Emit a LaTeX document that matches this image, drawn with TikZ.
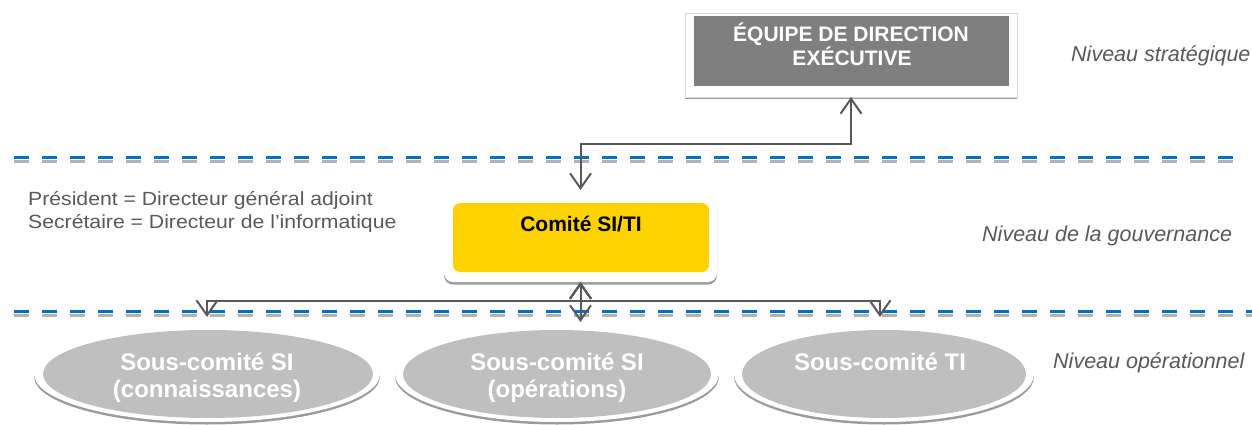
\documentclass[tikz,border=0pt]{standalone}
\usepackage{fontspec}
\setmainfont{Liberation Sans}
\usetikzlibrary{arrows.meta,shadows,shapes.geometric}

\definecolor{dirgray}{HTML}{7F7F7F}
\definecolor{comyellow}{HTML}{FFD200}
\definecolor{subgray}{HTML}{BFBFBF}
\definecolor{linkgray}{HTML}{595959}
\definecolor{txtgray}{HTML}{595959}
\definecolor{sepblue}{HTML}{0070C0}

\tikzset{
  frameshadow/.style={drop shadow={shadow xshift=0pt, shadow yshift=-2.5pt, fill=black!60, opacity=0.65}},
  whiteframe/.style={fill=white, inner sep=0pt, outer sep=0pt},
  dirbox/.style={rectangle, fill=dirgray, inner sep=0pt, outer sep=0pt, minimum width=315pt, minimum height=70pt},
  combox/.style={rectangle, rounded corners=7pt, fill=comyellow, inner sep=0pt, outer sep=0pt, minimum width=256pt, minimum height=69pt},
  subell/.style={ellipse, fill=subgray, inner sep=0pt, outer sep=0pt, minimum height=88pt},
  boxtext/.style={anchor=base, inner sep=0pt, font=\fontsize{21}{24}\selectfont\bfseries},
  subtext/.style={anchor=base, inner sep=0pt, text=white, font=\fontsize{24}{27}\selectfont\bfseries},
  leveltext/.style={anchor=base west, inner sep=0pt, text=txtgray, font=\fontsize{21.5}{24}\selectfont\itshape},
  roletext/.style={anchor=base west, inner sep=0pt, text=txtgray, font=\fontsize{21.2}{24}\selectfont},
  link/.style={draw=linkgray, line width=2pt,
    {Straight Barb[length=15pt,width=21pt]}-{Straight Barb[length=15pt,width=21pt]}},
  sepline/.style={draw=sepblue, line width=3.5pt, dash pattern=on 15pt off 13pt},
  sepshade/.style={draw=black!30, line width=3pt, dash pattern=on 15pt off 13pt},
}

\begin{document}
\begin{tikzpicture}[x=1pt,y=-1pt]
\useasboundingbox (0,0) rectangle (1252,425);

% level separators
\coordinate (s1a) at (14,157.5);
\coordinate (s1b) at (1233,157.5);
\coordinate (s2a) at (14,311.5);
\coordinate (s2b) at (1252,311.5);
\draw[sepshade] ([yshift=-4pt]s1a) -- ([yshift=-4pt]s1b);
\draw[sepline] (s1a) -- (s1b);
\draw[sepshade] ([yshift=-4pt]s2a) -- ([yshift=-4pt]s2b);
\draw[sepline] (s2a) -- (s2b);

% executive team
\node[whiteframe, frameshadow, draw=black!15, line width=0.6pt, minimum width=332pt, minimum height=84pt] (dir) at (851,55) {};
\node[dirbox] (dirin) at (851.5,51) {};
\node[boxtext, text=white] (dirt1) at (851,42) {ÉQUIPE DE DIRECTION};
\node[boxtext, text=white] (dirt2) at (852,66) {EXÉCUTIVE};

% IS/IT committee
\node[whiteframe, frameshadow, rounded corners=9pt, minimum width=273pt, minimum height=90pt] (com) at (580.5,237) {};
\node[combox] (comin) at (581,237.5) {};
\node[boxtext, text=black] (comt) at (581,231.5) {Comité SI/TI};

% sub-committees
\node[whiteframe, frameshadow, ellipse, minimum width=346pt, minimum height=96pt] (e1) at (207,374) {};
\node[subell, minimum width=330pt] (e1in) at (208,374) {};
\node[whiteframe, frameshadow, ellipse, minimum width=324pt, minimum height=96pt] (e2) at (557,374) {};
\node[subell, minimum width=308pt] (e2in) at (557,374) {};
\node[whiteframe, frameshadow, ellipse, minimum width=300pt, minimum height=96pt] (e3) at (884,374) {};
\node[subell, minimum width=284pt] (e3in) at (884,374) {};

\node[subtext] (e1t1) at (207,370) {Sous-comité SI};
\node[subtext] (e1t2) at (207,397) {(connaissances)};
\node[subtext] (e2t1) at (557,370) {Sous-comité SI};
\node[subtext] (e2t2) at (557,397) {(opérations)};
\node[subtext] (e3t1) at (880,370) {Sous-comité TI};

% connectors
\coordinate (j1) at (0,144);
\coordinate (j2) at (0,301);
\draw[link] (dir.south) -- (dir.south |- j1) -| ([yshift=2pt]com.north);
\draw[link] (com.south) -- (com.south |- j2) -| ([shift={(0,-9)}]e1.north);
\draw[link] (com.south) -- ([shift={(0,-4)}]com.south |- e2.north);
\draw[link] (com.south) -- (com.south |- j2) -| ([shift={(-4,-9)}]e3.north);

% chair and secretary
\node[roletext] (role1) at (28,205.7) {\scalebox{1}[0.9]{Président = Directeur général adjoint}};
\node[roletext] (role2) at (28,228.3) {\scalebox{1}[0.9]{Secrétaire = Directeur de l’informatique}};

% levels
\node[leveltext] (lv1) at (1071,61.5) {Niveau stratégique};
\node[leveltext] (lv2) at (982,241) {Niveau de la gouvernance};
\node[leveltext] (lv3) at (1053,368) {Niveau opérationnel};
\end{tikzpicture}
\end{document}
